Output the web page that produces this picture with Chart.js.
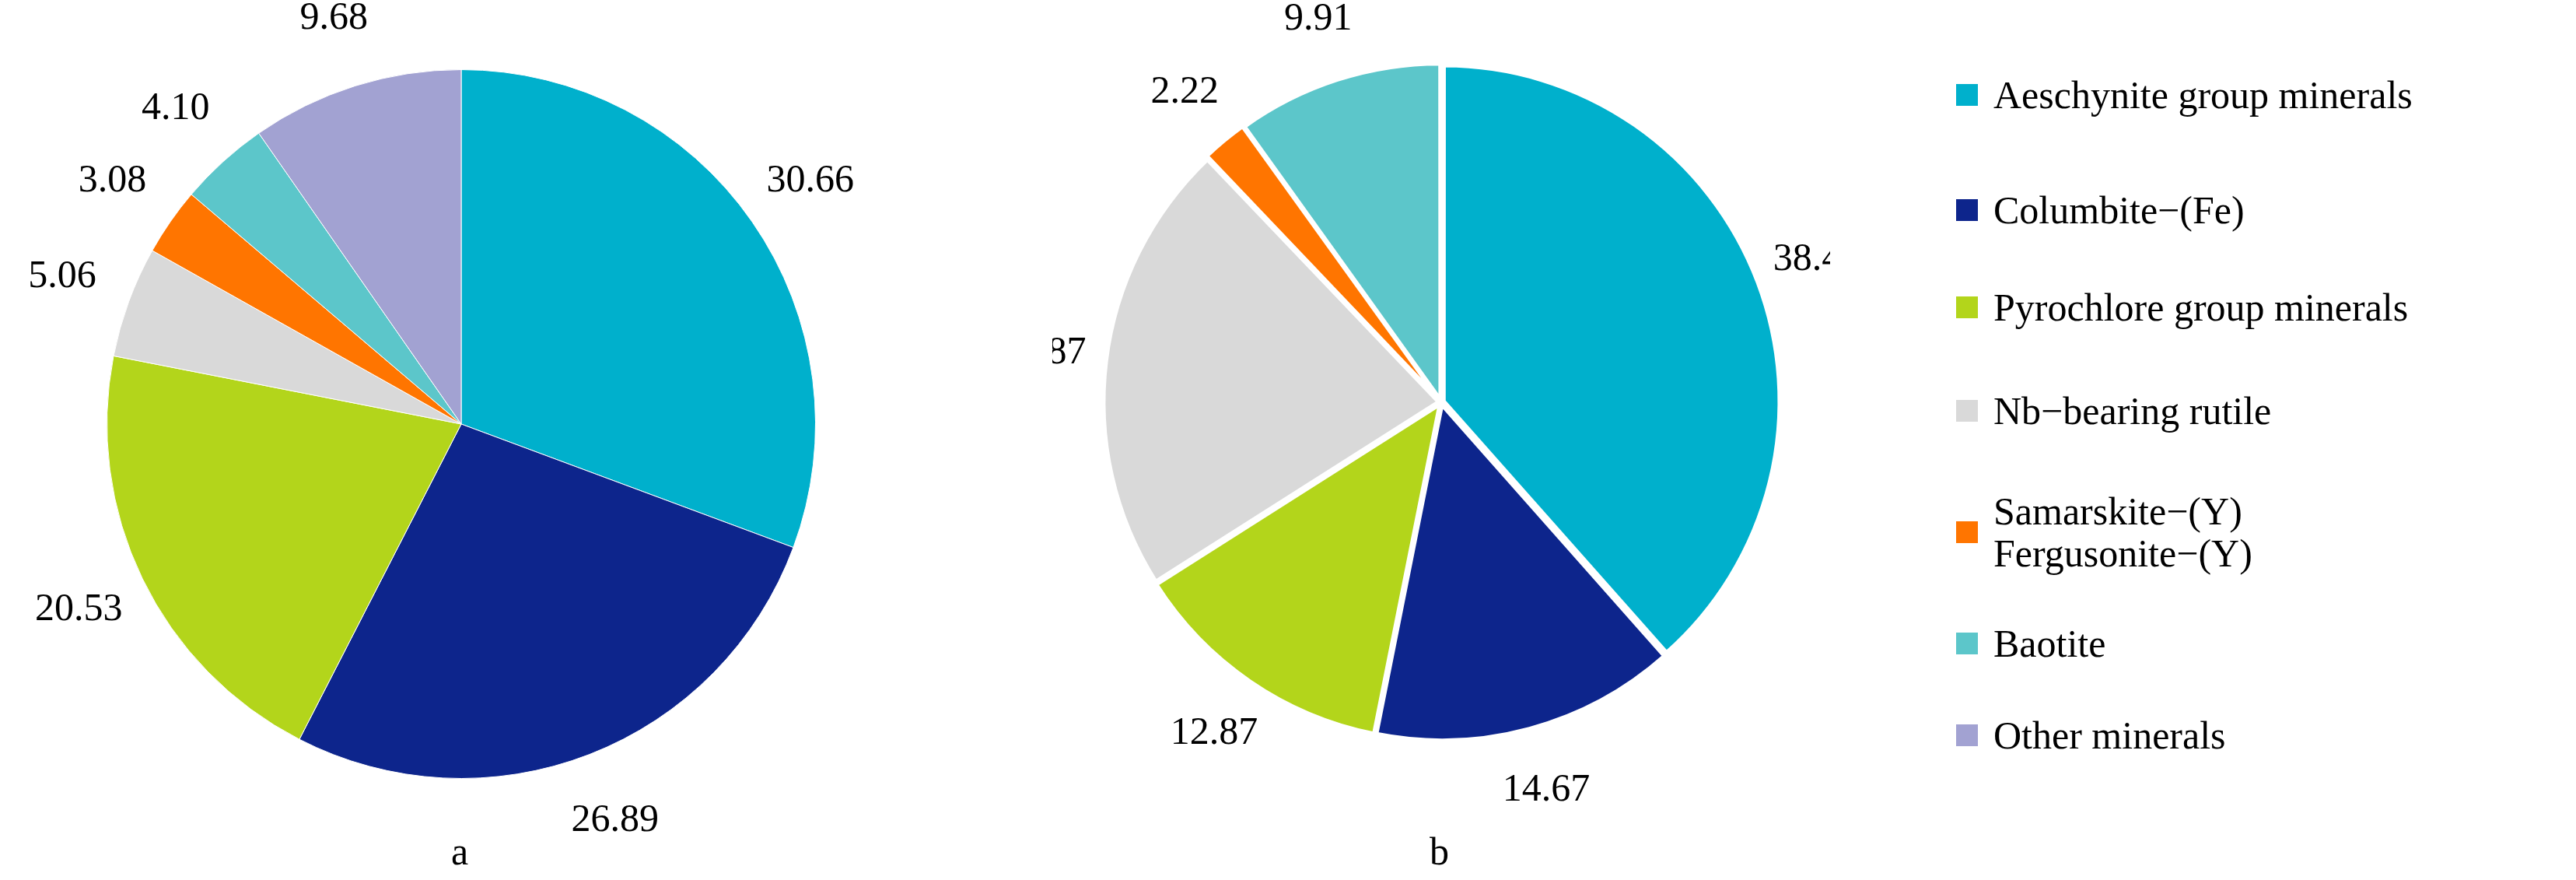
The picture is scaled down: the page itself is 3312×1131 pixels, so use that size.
<!DOCTYPE html>
<html><head><meta charset="utf-8">
<script src="https://cdn.jsdelivr.net/npm/chart.js@4"></script>
<style>
body{margin:0;background:#fff;width:3312px;height:1131px;position:relative;overflow:hidden;font-family:"Liberation Serif",serif}
.c{position:absolute}
.cap{position:absolute;font-size:50px;top:1065px}
#legend{position:absolute;left:2515px;top:0}
.item{position:absolute;display:flex;align-items:center;font-size:50px;white-space:nowrap;line-height:54px}
.sw{width:28px;height:28px;margin-right:20px;flex:none}
</style></head><body>
<canvas id="pa" class="c" style="left:0;top:0" width="1186" height="1090"></canvas>
<canvas id="pb" class="c" style="left:1353px;top:0" width="1000" height="1034"></canvas>
<div class="cap" style="left:580px">a</div>
<div class="cap" style="left:1838px">b</div>
<div id="legend"></div>
<script>
const minerals = ["Aeschynite group minerals", "Columbite\u2212(Fe)", "Pyrochlore group minerals",
  "Nb\u2212bearing rutile", "Samarskite\u2212(Y)\nFergusonite\u2212(Y)", "Baotite", "Other minerals"];
const colors = ["#00b0cc", "#0d258c", "#b3d51b", "#d9d9d9", "#ff7500", "#5cc6ca", "#a2a2d2"];
const valuesA = [30.66, 26.89, 20.53, 5.06, 3.08, 4.10, 9.68];
const valuesB = [38.46, 14.67, 12.87, 21.87, 2.22, 9.91];

const outLabels = {
  id: "outLabels",
  afterDraw(chart) {
    const ctx = chart.ctx;
    const meta = chart.getDatasetMeta(0);
    ctx.save();
    ctx.font = "50px 'Liberation Serif'";
    ctx.fillStyle = "#000";
    ctx.textAlign = "center";
    ctx.textBaseline = "middle";
    meta.data.forEach((arc, i) => {
      const mid = (arc.startAngle + arc.endAngle) / 2;
      const r = arc.outerRadius * 1.2;
      ctx.fillText(chart.data.datasets[0].data[i].toFixed(2), arc.x + Math.cos(mid) * r, arc.y + Math.sin(mid) * r);
    });
    ctx.restore();
  }
};

function makePie(id, values, pad, offset, border) {
  new Chart(document.getElementById(id), {
    type: "pie",
    data: {
      labels: minerals.slice(0, values.length),
      datasets: [{ data: values, backgroundColor: colors.slice(0, values.length),
        borderColor: "#fff", borderWidth: border, offset: offset }]
    },
    options: {
      responsive: false, animation: false,
      layout: { padding: pad },
      plugins: { legend: { display: false }, tooltip: { enabled: false } }
    },
    plugins: [outLabels]
  });
}
makePie("pa", valuesA, 89, 0, 1);
makePie("pb", valuesB, 60, 14, 5);

const tops = [95, 243, 368, 501, 630, 800, 918];
const leg = document.getElementById("legend");
minerals.forEach((m, i) => {
  const d = document.createElement("div");
  d.className = "item";
  d.style.top = tops[i] + "px";
  d.innerHTML = '<div class="sw" style="background:' + colors[i] + '"></div><div>' + m.replace("\n", "<br>") + "</div>";
  leg.appendChild(d);
});
</script>
</body></html>
